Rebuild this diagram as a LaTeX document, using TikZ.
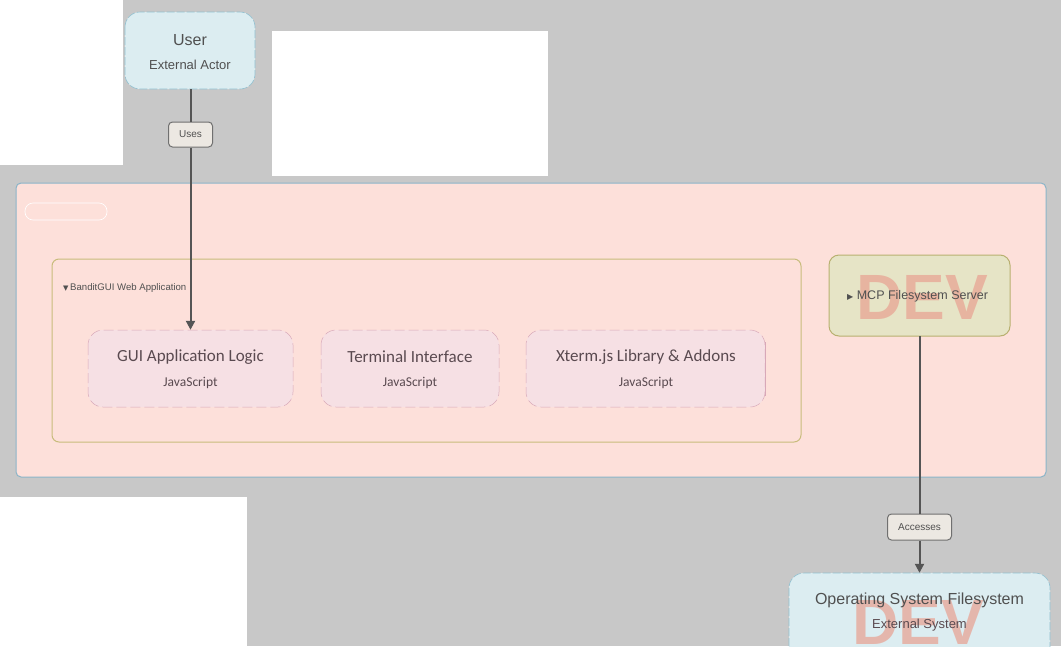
\documentclass[tikz,border=0pt]{standalone}
\usepackage{fontspec}
\setmainfont{Carlito}
\newfontfamily\lib{Liberation Sans}
\newfontfamily\dvs{DejaVu Sans}
\usetikzlibrary{arrows.meta}
\definecolor{bggrey}{HTML}{C8C8C8}
\definecolor{pinkbg}{HTML}{FDE0DA}
\definecolor{outerb}{HTML}{8AB4C8}
\definecolor{innerb}{HTML}{C8BC7C}
\definecolor{compfill}{HTML}{F6E0E4}
\definecolor{compb}{HTML}{D8A8B8}
\definecolor{mcpfill}{HTML}{E6E4C6}
\definecolor{mcpb}{HTML}{B8B070}
\definecolor{extfill}{HTML}{DCEDF1}
\definecolor{extb}{HTML}{90C0D0}
\definecolor{lblfill}{HTML}{ECE8E2}
\definecolor{lblb}{HTML}{707070}
\definecolor{arr}{HTML}{555555}
\definecolor{txt}{HTML}{505050}
\definecolor{comptxt}{HTML}{5A4A50}
\definecolor{devfill}{HTML}{E8A090}
\definecolor{devline}{HTML}{A8B080}
\tikzset{
  extbox/.style={draw=extb, fill=extfill, rounded corners=15pt, line width=0.6pt, dash pattern=on 8pt off 2pt},
  compbox/.style={draw=compb, fill=compfill, rounded corners=15pt, line width=0.5pt, dash pattern=on 10pt off 4pt},
  lblbox/.style={draw=lblb, fill=lblfill, rounded corners=4pt, line width=1pt, text=txt, font=\lib\fontsize{10}{12}\selectfont, inner sep=0pt},
  conn/.style={draw=arr, line width=2pt, -{Triangle[length=9pt,width=9pt]}},
  plain/.style={draw=arr, line width=2pt},
  devmark/.style={text=devfill, draw=none, font=\lib\bfseries\fontsize{64}{64}\selectfont, opacity=0.7},
}
\begin{document}
\begin{tikzpicture}[x=1pt,y=-1pt]
\useasboundingbox (0,0) rectangle (1061,646);
\clip (0,0) rectangle (1061,646);
% background
\fill[bggrey] (0,0) rectangle (1061,646);
\fill[white] (0,0) rectangle (123,165);
\fill[white] (272,31) rectangle (548,176);
\fill[white] (0,497) rectangle (247,646);
% outer container
\draw[draw=outerb, fill=pinkbg, rounded corners=5pt, line width=1pt] (16,183) rectangle (1046,477);
\draw[draw=white, rounded corners=8pt, line width=0.6pt] (25,203) rectangle (107,220);
% inner container
\draw[draw=innerb, fill=pinkbg, rounded corners=7pt, line width=1pt] (52,259) rectangle (801,442);
\node[anchor=west, text=txt, font=\lib\fontsize{9.6}{11}\selectfont, inner sep=0pt] (webapp) at (63,288) {{\dvs\fontsize{7}{8}\selectfont ▼}\,BanditGUI Web Application};
% components
\path[compbox] (88,330) rectangle (293,407);
\node (gui) at (190.5,368.5) [minimum width=205pt, minimum height=77pt] {};
\node[text=comptxt, font=\fontsize{17}{18}\selectfont] (guit) at (190.5,357) {GUI Application Logic};
\node[text=comptxt, font=\fontsize{13.5}{15}\selectfont] (guis) at (190.5,383) {JavaScript};
\path[compbox] (321,330) rectangle (499,407);
\node[text=comptxt, font=\fontsize{17}{18}\selectfont] (termt) at (410,357) {Terminal Interface};
\node[text=comptxt, font=\fontsize{13.5}{15}\selectfont] (terms) at (410,383) {JavaScript};
\path[compbox] (526,330) rectangle (765,407);
\draw[draw=compb, line width=0.8pt] (765,342) -- (765,396);
\node[text=comptxt, font=\fontsize{17}{18}\selectfont] (xtt) at (646,357) {Xterm.js Library \& Addons};
\node[text=comptxt, font=\fontsize{13.5}{15}\selectfont] (xts) at (646,383) {JavaScript};
% MCP server
\draw[draw=mcpb, fill=mcpfill, rounded corners=10pt, line width=1pt] (829,255) rectangle (1010,336);
\node (mcp) at (919.5,295.5) [minimum width=181pt, minimum height=81pt] {};
\node[devmark] (dev1) at (922,297) {DEV};
\node[text=txt, font=\lib\fontsize{12.5}{14}\selectfont, anchor=west, inner sep=0pt] (mcpt) at (847,296) {{\dvs\fontsize{8}{9}\selectfont ▶}\ MCP Filesystem Server};
% User
\path[extbox] (125,12) rectangle (255,89);
\node (user) at (190.5,50.5) [minimum width=130pt, minimum height=77pt] {};
\node[text=txt, font=\lib\fontsize{16}{18}\selectfont] (usert) at (190,40) {User};
\node[text=txt, font=\lib\fontsize{13}{15}\selectfont] (users) at (190,65) {External Actor};
% OS filesystem
\path[extbox] (789,573) rectangle (1050,670);
\node (os) at (919.5,621.5) [minimum width=261pt, minimum height=97pt] {};
\node[devmark] (dev2) at (918,622) {DEV};
\node[text=txt, font=\lib\fontsize{16}{18}\selectfont] (ost) at (919.5,600) {Operating System Filesystem};
\node[text=comptxt, font=\lib\fontsize{13}{15}\selectfont] (oss) at (919.5,625) {External System};
% connectors
\node[lblbox, minimum width=44pt, minimum height=25pt] (uses) at (190.5,134.5) {Uses};
\node[lblbox, minimum width=64pt, minimum height=26pt] (acc) at (919.5,527) {Accesses};
\draw[plain] (user.south) -- (uses.north);
\draw[conn] (uses.south) -- (gui.north);
\draw[plain] (mcp.south) -- (acc.north);
\draw[conn] (acc.south) -- (os.north);
\end{tikzpicture}
\end{document}
